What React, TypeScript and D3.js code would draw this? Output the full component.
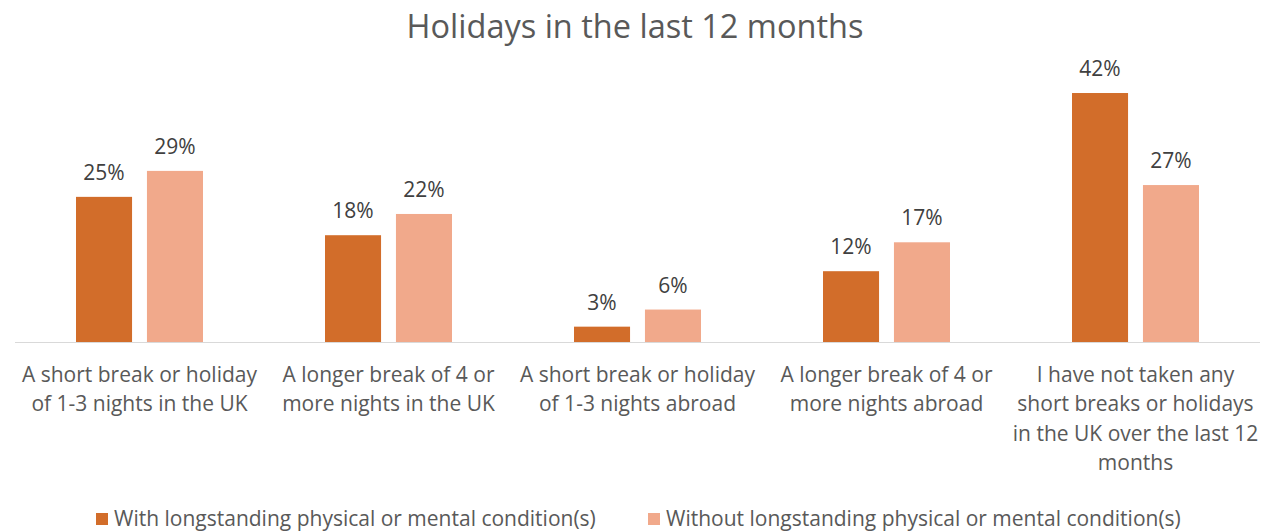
import React, { useEffect, useRef } from 'react';
import * as d3 from 'd3';

const categories = [
  ['A short break or holiday', 'of 1-3 nights in the UK'],
  ['A longer break of 4 or', 'more nights in the UK'],
  ['A short break or holiday', 'of 1-3 nights abroad'],
  ['A longer break of 4 or', 'more nights abroad'],
  ['I have not taken any', 'short breaks or holidays', 'in the UK over the last 12', 'months'],
];
const seriesNames = [
  'With longstanding physical or mental condition(s)',
  'Without longstanding physical or mental condition(s)',
];
const withCondition = [24.6, 18.1, 2.6, 12.0, 42.2];
const withoutCondition = [29.0, 21.7, 5.5, 16.9, 26.6];
const colors = ['#d26d2a', '#f1a98b'];

const W = 1261;
const H = 531;
const FONT = '"Open Sans", sans-serif';

export default function App() {
  const ref = useRef<SVGSVGElement>(null);

  useEffect(() => {
    const svg = d3.select(ref.current);
    svg.selectAll('*').remove();

    const keys = categories.map((c, i) => String(i));
    const values = [withCondition, withoutCondition];
    const baseline = 342;

    const x0 = d3.scaleBand().domain(keys).range([15, 1260]).padding(0);
    const x1 = d3.scaleBand().domain(['0', '1']).range([0, x0.bandwidth()])
      .paddingInner(0.21).paddingOuter(0.86);
    const y = d3.scaleLinear().domain([0, 45]).range([baseline, baseline - 45 * 5.9]);

    // title
    svg.append('text')
      .attr('x', 635).attr('y', 38)
      .attr('text-anchor', 'middle')
      .attr('font-family', FONT).attr('font-size', 32.5)
      .attr('fill', '#595959')
      .text('Holidays in the last 12 months');

    // bars
    const groups = svg.selectAll('g.grp')
      .data(keys).enter().append('g')
      .attr('class', 'grp')
      .attr('transform', (k) => `translate(${x0(k)},0)`);

    values.forEach((vals, s) => {
      groups.append('rect')
        .attr('x', x1(String(s))!)
        .attr('y', (k, i) => y(vals[i]))
        .attr('width', x1.bandwidth())
        .attr('height', (k, i) => baseline - y(vals[i]))
        .attr('fill', colors[s]);

      groups.append('text')
        .attr('x', x1(String(s))! + x1.bandwidth() / 2)
        .attr('y', (k, i) => y(vals[i]) - 17)
        .attr('text-anchor', 'middle')
        .attr('font-family', FONT).attr('font-size', 21)
        .attr('fill', '#404040')
        .text((k, i) => `${Math.round(vals[i])}%`);
    });

    // axis line
    svg.append('line')
      .attr('x1', 15).attr('x2', 1260)
      .attr('y1', baseline + 0.5).attr('y2', baseline + 0.5)
      .attr('stroke', '#d9d9d9').attr('stroke-width', 1);

    // category labels
    categories.forEach((lines, i) => {
      const t = svg.append('text')
        .attr('text-anchor', 'middle')
        .attr('font-family', FONT).attr('font-size', 21)
        .attr('fill', '#595959');
      lines.forEach((line, j) => {
        t.append('tspan')
          .attr('x', x0(String(i))! + x0.bandwidth() / 2)
          .attr('y', 382 + j * 29.3)
          .text(line);
      });
    });

    // legend
    const legendX = [96, 648];
    seriesNames.forEach((name, s) => {
      svg.append('rect')
        .attr('x', legendX[s]).attr('y', 513)
        .attr('width', 12).attr('height', 12)
        .attr('fill', colors[s]);
      svg.append('text')
        .attr('x', legendX[s] + 18).attr('y', 526)
        .attr('font-family', FONT).attr('font-size', 21)
        .attr('fill', '#595959')
        .text(name);
    });
  }, []);

  return (
    <svg ref={ref} width={W} height={H}
      style={{ position: 'absolute', left: 0, top: 0, background: '#fff' }} />
  );
}
